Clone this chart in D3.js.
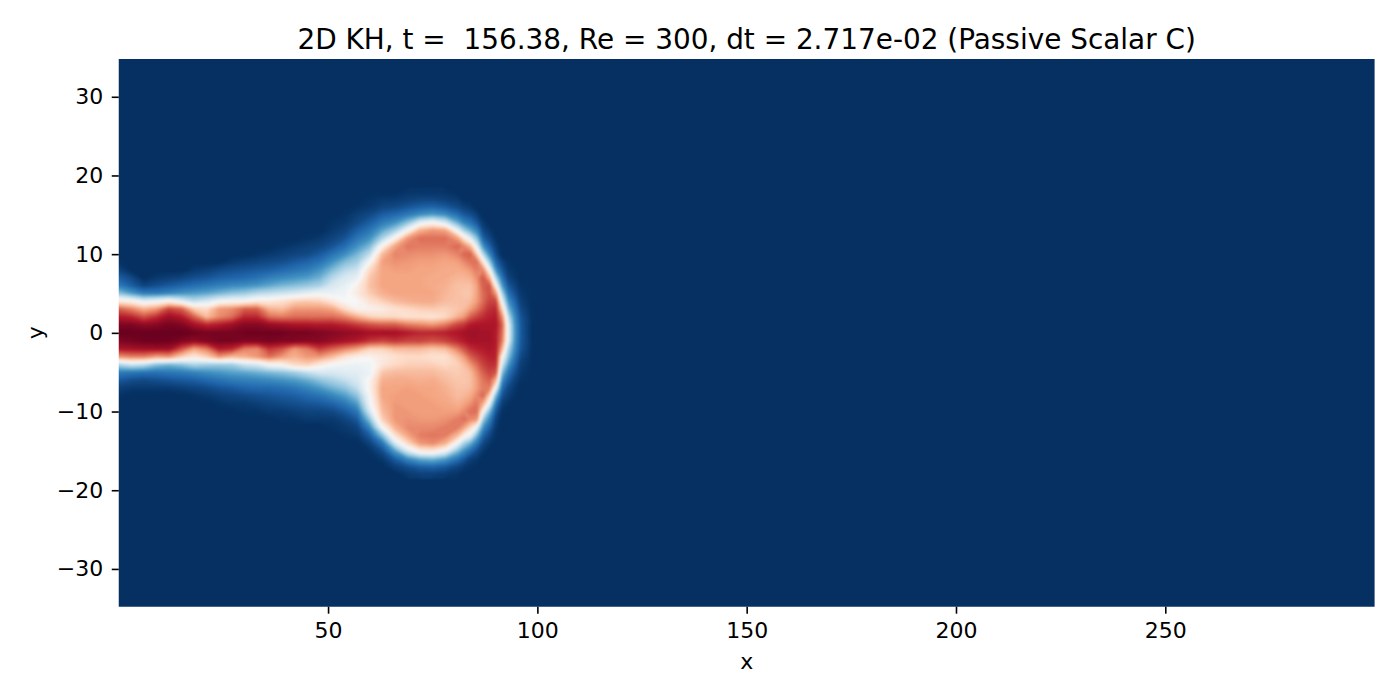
<!DOCTYPE html>
<html><head><meta charset="utf-8">
<script src="https://cdnjs.cloudflare.com/ajax/libs/d3/7.8.5/d3.min.js"></script>
<style>html,body{margin:0;background:#fff}svg{display:block}text{font-family:"DejaVu Sans";fill:#000}</style>
</head><body><svg id="c" width="1400" height="700"></svg>
<script>
// Passive scalar, colormap position in percent (0 = darkest blue, 50 = white, 100 = darkest red).
const titleText = "2D KH, t =  156.38, Re = 300, dt = 2.717e-02 (Passive Scalar C)";
const xLabel = "x", yLabel = "y";
const xTicks = [50,100,150,200,250];
const yTicks = [-30,-20,-10,0,10,20,30];
const rdbuStops = ["#053061","#2166ac","#4393c3","#92c5de","#d1e5f0","#f7f7f7","#fddbc7","#f4a582","#d6604d","#b2182b","#67001f"];
const sampleX = [0,3,6,9,12,15,18,21,24,27,30,33,36,39,42,45,48,51,54,57,60,63,66,69,72,75,78,81,82.5,84,85.5,87,88.5,90,91.5,93,94.5,96,99];
const sampleYTop = 18, sampleYBottom = -18;
// y of the first listed value in each column; values step down by 1 unit of y, zero outside the list
const columnTopY = [9,7,6,7,7,7,8,8,8,9,9,10,10,11,11,12,12,14,15,16,17,17,17,18,18,18,18,17,16,16,15,14,13,12,9,9,8,6,0];
const columnValues = [
[1,4,9,15,30,55,80,90,97,100,97,91,72,35,15,8,3,1],
[5,9,22,52,75,88,97,100,98,92,75,40,14,6,2],
[4,15,45,68,82,95,100,99,93,75,38,13,5,2],
[2,6,15,48,72,87,96,100,99,93,70,30,13,6,2],
[3,8,17,52,84,93,98,100,99,93,72,27,14,7,2],
[4,10,20,45,80,90,97,100,97,82,62,30,15,8,3],
[2,6,12,22,38,63,80,92,99,95,70,56,35,17,9,4,1],
[3,7,14,24,42,60,66,88,98,97,76,62,33,19,11,5,2],
[5,9,16,27,48,72,74,90,98,98,90,72,32,21,13,7,3,1],
[2,6,10,18,30,50,74,78,93,98,98,88,66,33,23,15,8,4,2],
[3,7,11,19,32,50,80,88,96,99,97,76,68,40,24,16,10,5,2,1],
[1,4,8,13,21,36,55,80,88,96,99,97,74,72,42,26,17,11,6,3,1],
[2,5,9,16,24,38,55,68,78,94,99,98,86,78,50,28,18,11,7,4,2],
[1,3,6,11,18,27,40,58,66,76,93,99,97,82,72,52,30,20,12,8,5,2,1],
[2,4,8,13,20,29,42,62,72,78,91,98,97,72,68,60,33,22,14,9,6,3,1],
[1,3,5,10,15,22,31,45,63,72,78,91,98,96,76,72,62,38,25,17,11,7,4,2],
[2,4,8,13,20,26,34,48,62,72,78,90,97,96,85,72,55,42,30,21,13,8,4,2],
[1,2,4,7,13,20,28,36,42,47,56,70,78,90,96,94,80,66,50,42,34,26,17,10,5,2,1],
[1,2,4,7,12,19,28,36,42,46,48,50,60,75,88,95,92,75,58,48,44,38,30,22,14,8,4,2,1],
[1,3,5,9,14,20,27,33,40,46,53,55,50,52,68,85,94,90,70,53,47,45,42,38,30,22,14,8,4,2],
[1,2,5,9,14,20,28,38,50,60,64,65,63,58,52,62,82,92,86,62,52,48,47,52,53,50,48,42,30,18,9,4,1],
[2,4,9,15,24,35,52,66,71,70,70,70,68,62,54,60,80,92,84,62,55,56,64,68,70,70,68,66,62,50,30,14,6,2],
[2,5,11,20,33,52,70,75,73,71,70,70,70,66,58,60,80,92,86,66,58,60,66,69,70,71,72,72,72,68,58,42,22,9,3],
[1,3,7,15,30,50,72,77,74,72,71,70,70,70,68,60,58,76,90,84,66,60,62,66,69,71,71,71,72,73,74,70,60,42,18,6,2],
[1,4,9,19,45,68,78,76,73,71,70,70,70,70,69,62,58,74,88,84,66,60,62,66,68,70,71,71,71,72,74,76,72,54,25,9,3],
[1,4,10,22,50,72,78,76,73,71,70,69,69,70,69,63,57,72,88,82,64,58,62,66,69,70,70,71,71,72,74,77,74,56,27,10,3],
[1,3,8,19,42,70,78,76,72,70,69,69,68,67,66,62,60,76,89,84,66,58,60,64,66,68,69,70,71,73,76,76,68,48,22,8,2],
[2,5,12,25,46,70,79,75,71,69,67,65,65,65,64,68,84,91,88,76,66,62,63,64,65,66,68,71,76,76,66,48,28,13,4,1],
[3,8,17,33,56,74,79,74,70,67,65,64,65,66,72,86,92,90,82,72,66,64,64,65,67,70,74,78,70,54,34,19,8,2],
[2,6,13,25,44,66,80,77,72,68,65,64,66,71,80,90,93,92,87,80,72,66,65,66,69,73,78,74,60,47,26,12,3,1],
[3,8,17,30,44,62,78,76,73,70,70,71,76,84,91,93,92,89,84,78,73,71,71,74,77,78,72,46,28,15,6,2],
[2,5,10,20,36,56,74,81,80,78,78,82,87,91,92,92,90,87,84,80,77,76,79,68,50,32,20,11,5,2],
[2,5,10,18,32,50,68,82,82,84,87,89,91,92,92,91,89,87,84,80,76,62,46,28,17,10,5,2],
[1,3,6,11,20,35,52,72,84,88,90,91,90,90,90,89,87,82,68,48,28,15,8,4,2,1],
[4,8,14,22,35,47,62,74,80,78,76,68,53,42,30,20,12,7,3,1],
[1,2,4,8,13,20,28,38,45,46,45,36,30,22,14,9,5,3,1],
[1,2,4,7,11,15,19,21,22,21,19,15,11,7,4,2,1],
[1,2,3,5,7,8,8,8,7,5,3,2,1],
[0]
];

const L=118.75,R=1374.6,T=59,B=606.7;
const x=d3.scaleLinear().domain([0,300]).range([L,R]);
const y=d3.scaleLinear().domain([-34.8,34.8]).range([B,T]);
const svg=d3.select("#c");
const colour=d3.scaleLinear().domain(rdbuStops.map((_,i)=>i*10)).range(rdbuStops).interpolate(d3.interpolateRgb);

const nx=sampleX.length, ny=sampleYTop-sampleYBottom+1;
const grid=new Array(nx*ny).fill(0);
columnValues.forEach((col,i)=>col.forEach((v,k)=>{grid[(sampleYTop-columnTopY[i]+k)*nx+i]=v;}));

const defs=svg.append("defs");
defs.append("clipPath").attr("id","plot").append("rect").attr("x",L).attr("y",T).attr("width",R-L).attr("height",B-T);
const blur=defs.append("filter").attr("id","soft").attr("filterUnits","userSpaceOnUse").attr("x",0).attr("y",0).attr("width",1400).attr("height",700).attr("color-interpolation-filters","sRGB");
blur.append("feGaussianBlur").attr("stdDeviation",1.2);

const clipG=svg.append("g").attr("clip-path","url(#plot)");
const g=clipG.append("g").attr("filter","url(#soft)");
g.append("rect").attr("x",L-30).attr("y",T-30).attr("width",R-L+60).attr("height",B-T+60).attr("fill",colour(0));

const gridToX=d3.scaleLinear().domain(sampleX.map((_,i)=>i+0.5)).range(sampleX.map(v=>x(v)));
const gy=v=>y(sampleYTop)+(v-0.5)*(y(sampleYTop-1)-y(sampleYTop));
const path=d3.geoPath(d3.geoTransform({point(a,b){this.stream.point(gridToX(a),gy(b));}}));
const thresholds=d3.range(0.5,100.5,0.5);
const cs=d3.contours().size([nx,ny]).smooth(true).thresholds(thresholds)(grid);
g.selectAll("path").data(cs).join("path").attr("d",path).attr("fill",d=>colour(d.value)).attr("stroke",d=>colour(d.value)).attr("stroke-width",0.3);

const xAxis=svg.append("g").attr("transform",`translate(0,${B})`).call(d3.axisBottom(x).tickValues(xTicks).tickSize(7).tickPadding(8.5).tickFormat(d3.format("d")));
const yAxis=svg.append("g").attr("transform",`translate(${L},0)`).call(d3.axisLeft(y).tickValues(yTicks).tickSize(7).tickPadding(8.5));
[xAxis,yAxis].forEach(a=>{a.select(".domain").remove();a.selectAll("line").attr("stroke","#000").attr("stroke-width",1.6);a.selectAll("text").attr("font-size",22).attr("font-family","DejaVu Sans");});

svg.append("text").attr("x",(L+R)/2).attr("y",669).attr("text-anchor","middle").attr("font-size",22).text(xLabel);
svg.append("text").attr("transform",`translate(43,${(T+B)/2}) rotate(-90)`).attr("text-anchor","middle").attr("font-size",22).text(yLabel);
svg.append("text").attr("x",(L+R)/2).attr("y",48.5).attr("text-anchor","middle").attr("font-size",27.9).attr("xml:space","preserve").style("white-space","pre").text(titleText);
</script></body></html>
